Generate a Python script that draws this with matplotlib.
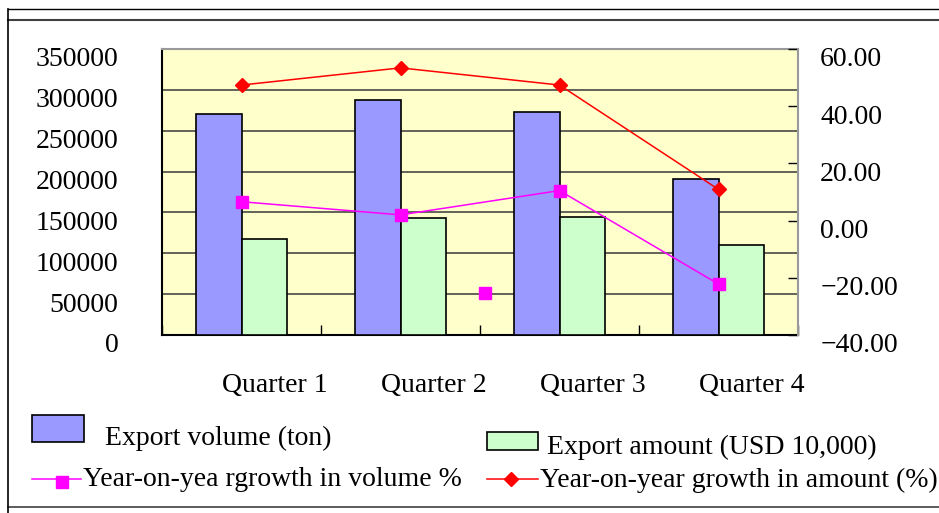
import numpy as np
import matplotlib
matplotlib.use("Agg")
import matplotlib.pyplot as plt
import matplotlib.transforms as mtransforms
from matplotlib.lines import Line2D
from matplotlib.patches import Rectangle

quarters = ['Quarter 1', 'Quarter 2', 'Quarter 3', 'Quarter 4']
export_volume = [271000, 287000, 272500, 191000]
export_amount = [117000, 143000, 145000, 110000]
volume_growth = [6.6, 2.0, 10.5, -22.2]
amount_growth = [47.4, 53.4, 47.4, 10.9]
# stray point of the volume growth series, sits between Q2 and Q3
stray_pos = [1.53]
stray_growth = [-25.2]

left_ticks = [0, 50000, 100000, 150000, 200000, 250000, 300000, 350000]
left_labels = [str(v) for v in left_ticks]
right_ticks = [-40, -20, 0, 20, 40, 60]
right_labels = [f"{v:.2f}".replace('-', '\u2212') for v in right_ticks]

legend_labels = ['Export volume (ton)', 'Export amount (USD 10,000)',
                 'Year-on-yea rgrowth in volume %', 'Year-on-year growth in amount (%)']

W, H = 939, 513
plt.rcParams['font.family'] = ['Liberation Serif', 'DejaVu Serif']
plt.rcParams['font.size'] = 20

BLUE = '#9999FF'
GREEN = '#CCFFCC'
MAGENTA = '#FF00FF'
RED = '#FF0000'


def px(x, y):
    """pixel position (from top-left) -> figure fraction"""
    return x / W, 1 - y / H


fig = plt.figure(figsize=(W / 100, H / 100), dpi=100)
ax = fig.add_axes([162 / W, 1 - 335 / H, (798 - 162) / W, (335 - 49) / H])

x = np.arange(len(quarters))
w = 1 / 3.5
ax.bar(x - w / 2, export_volume, w, color=BLUE, edgecolor='black', linewidth=1.2, zorder=3)
ax.bar(x + w / 2, export_amount, w, color=GREEN, edgecolor='black', linewidth=1.2, zorder=3)

ax.set_xlim(-0.5, len(quarters) - 0.5)
ax.set_ylim(0, 350000)
ax.set_facecolor('#FFFFCC')
ax.yaxis.grid(True, color='#383838', linewidth=1.1)
ax.set_axisbelow(True)

ax.set_yticks(left_ticks)
ax.set_yticklabels(left_labels)
ax.tick_params(axis='y', length=0, pad=31.5, labelsize=20)
ax.set_xticks(x)
ax.set_xticklabels(quarters)
ax.set_xticks(np.arange(-0.5, len(quarters), 1), minor=True)
ax.tick_params(axis='x', which='major', length=0, pad=27, labelsize=20)
ax.tick_params(axis='x', which='minor', direction='in', length=7, width=1)

for side in ['left', 'bottom']:
    ax.spines[side].set_color('black')
    ax.spines[side].set_linewidth(1.5)
ax.spines['top'].set_color('#999999')
ax.spines['top'].set_linewidth(1.5)
ax.spines['right'].set_visible(False)

ax2 = ax.twinx()
ax2.set_ylim(-40, 60)
ax2.set_yticks(right_ticks)
ax2.set_yticklabels(right_labels)
ax2.tick_params(axis='y', direction='in', length=7, width=1, pad=16, labelsize=20)
for side in ['left', 'top', 'bottom']:
    ax2.spines[side].set_visible(False)
ax2.spines['right'].set_color('#999999')
ax2.spines['right'].set_linewidth(1.5)

ax2.plot(x, volume_growth, color=MAGENTA, marker='s', markersize=8.5, linewidth=1.1)
ax2.plot(stray_pos, stray_growth, color=MAGENTA, marker='s', markersize=8.5, linestyle='none')
ax2.plot(x, amount_growth, color=RED, marker='D', markersize=7.5, linewidth=1.1)

# tick label offsets
down = mtransforms.ScaledTranslation(0, -0.08, fig.dpi_scale_trans)
for lab in ax.get_yticklabels() + ax2.get_yticklabels():
    lab.set_transform(lab.get_transform() + down)
right_shift = mtransforms.ScaledTranslation(0.33, 0, fig.dpi_scale_trans)
for lab in ax.get_xticklabels():
    lab.set_transform(lab.get_transform() + right_shift)

# legend, placed by hand like the original
fig.add_artist(Rectangle(px(32, 442), 52 / W, 27 / H, transform=fig.transFigure,
                         facecolor=BLUE, edgecolor='black', linewidth=1.2))
fig.text(*px(105, 438), legend_labels[0], va='center', ha='left', fontsize=20)
fig.add_artist(Rectangle(px(487, 450), 51 / W, 18 / H, transform=fig.transFigure,
                         facecolor=GREEN, edgecolor='black', linewidth=1.2))
fig.text(*px(547, 447), legend_labels[1], va='center', ha='left', fontsize=20)

x0, y0 = px(32, 479)
x1, _ = px(81, 479)
fig.add_artist(Line2D([x0, x1], [y0, y0], transform=fig.transFigure, color=MAGENTA, linewidth=1.1))
fig.add_artist(Line2D([px(62, 0)[0]], [px(0, 482)[1]], transform=fig.transFigure, color=MAGENTA,
                      marker='s', markersize=8.5, linestyle='none'))
fig.text(*px(83, 480), legend_labels[2], va='center', ha='left', fontsize=20)

x0, y0 = px(487, 479)
x1, _ = px(538, 479)
fig.add_artist(Line2D([x0, x1], [y0, y0], transform=fig.transFigure, color=RED, linewidth=1.1))
fig.add_artist(Line2D([px(511, 0)[0]], [y0], transform=fig.transFigure, color=RED,
                      marker='D', markersize=7.5, linestyle='none'))
fig.text(*px(540, 480), legend_labels[3], va='center', ha='left', fontsize=20)

# outer table-like border
fig.add_artist(Line2D([px(8, 0)[0], 1], [px(0, 9)[1]] * 2, transform=fig.transFigure, color='black', linewidth=1))
fig.add_artist(Line2D([px(8, 0)[0], 1], [px(0, 20)[1]] * 2, transform=fig.transFigure, color='#404040', linewidth=1.5))
fig.add_artist(Line2D([px(8, 0)[0], 1], [px(0, 507)[1]] * 2, transform=fig.transFigure, color='#404040', linewidth=1.2))
fig.add_artist(Line2D([px(8, 0)[0]] * 2, [px(0, 9)[1], 0], transform=fig.transFigure, color='black', linewidth=1.2))

fig.savefig('out.png', dpi=100)
